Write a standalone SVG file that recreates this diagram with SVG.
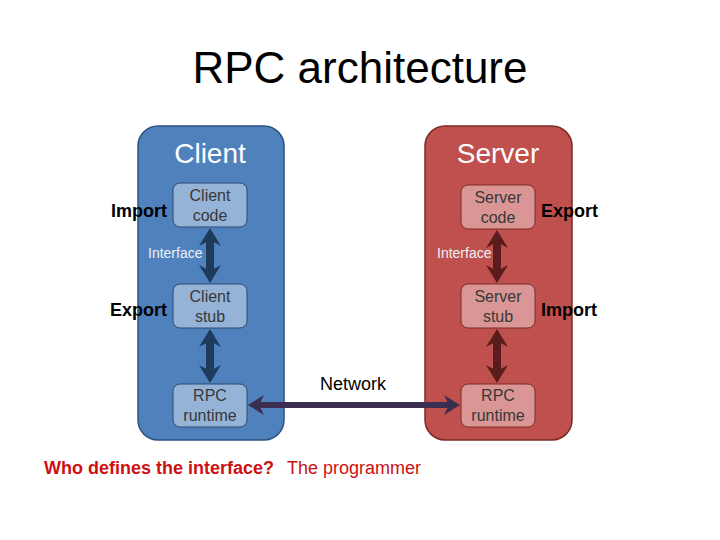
<svg xmlns="http://www.w3.org/2000/svg" width="720" height="540" viewBox="0 0 720 540">
<style>
text{font-family:"Liberation Sans",Arial,sans-serif}
.title{font-size:44px;fill:#000}
.head{font-size:28px;fill:#fff}
.inner{font-size:16px;fill:#383838}
.side{font-size:18px;font-weight:bold;fill:#000}
.iface{font-size:14px;fill:#eef2f8}
.cbox{fill:#4f81bd;stroke:#2c5282;stroke-width:1.5}
.sbox{fill:#c0504d;stroke:#7a2a28;stroke-width:1.5}
.cin{fill:#95b3d7;stroke:#2c4a70;stroke-width:1}
.sin{fill:#d99694;stroke:#7a2a28;stroke-width:1}
.carr{stroke:#1f3b5c;stroke-width:8;fill:none}
.sarr{stroke:#5a1c1c;stroke-width:8;fill:none}
.narr{stroke:#3b2e50;stroke-width:6;fill:none}
.red{font-size:18px;fill:#cc1111}
</style>
<defs>
<marker id="hc" markerUnits="userSpaceOnUse" markerWidth="20" markerHeight="22" refX="9" refY="11" orient="auto-start-reverse" viewBox="0 0 20 22"><path d="M0,0 L18,11 L0,22 L6,11 Z" fill="#1f3b5c"/></marker>
<marker id="hs" markerUnits="userSpaceOnUse" markerWidth="20" markerHeight="22" refX="9" refY="11" orient="auto-start-reverse" viewBox="0 0 20 22"><path d="M0,0 L18,11 L0,22 L6,11 Z" fill="#5a1c1c"/></marker>
<marker id="hn" markerUnits="userSpaceOnUse" markerWidth="18" markerHeight="20" refX="8" refY="10" orient="auto-start-reverse" viewBox="0 0 18 20"><path d="M0,0 L16,10 L0,20 L5,10 Z" fill="#3b2e50"/></marker>
</defs>
<text class="title" x="360" y="83" text-anchor="middle">RPC architecture</text>
<g id="client">
<rect class="cbox" x="138" y="126" width="146" height="314" rx="20"/>
<text class="head" x="210" y="163" text-anchor="middle">Client</text>
</g>
<g id="server">
<rect class="sbox" x="425" y="126" width="147" height="314" rx="20"/>
<text class="head" x="498" y="163" text-anchor="middle">Server</text>
</g>
<g id="client-code">
<rect class="cin" x="173" y="183" width="74" height="44" rx="7"/>
<text class="inner" x="210" y="201" text-anchor="middle">Client</text>
<text class="inner" x="210" y="221" text-anchor="middle">code</text>
</g>
<g id="client-stub">
<rect class="cin" x="173" y="284" width="74" height="44" rx="7"/>
<text class="inner" x="210" y="302" text-anchor="middle">Client</text>
<text class="inner" x="210" y="322" text-anchor="middle">stub</text>
</g>
<g id="client-runtime">
<rect class="cin" x="173" y="384" width="74" height="43" rx="7"/>
<text class="inner" x="210" y="401" text-anchor="middle">RPC</text>
<text class="inner" x="210" y="421" text-anchor="middle">runtime</text>
</g>
<g id="server-code">
<rect class="sin" x="461" y="185" width="74" height="44" rx="7"/>
<text class="inner" x="498" y="203" text-anchor="middle">Server</text>
<text class="inner" x="498" y="223" text-anchor="middle">code</text>
</g>
<g id="server-stub">
<rect class="sin" x="461" y="284" width="74" height="44" rx="7"/>
<text class="inner" x="498" y="302" text-anchor="middle">Server</text>
<text class="inner" x="498" y="322" text-anchor="middle">stub</text>
</g>
<g id="server-runtime">
<rect class="sin" x="461" y="384" width="74" height="43" rx="7"/>
<text class="inner" x="498" y="401" text-anchor="middle">RPC</text>
<text class="inner" x="498" y="421" text-anchor="middle">runtime</text>
</g>
<g id="connectors">
<path class="carr" d="M210,237 L210,274" marker-start="url(#hc)" marker-end="url(#hc)"/>
<path class="carr" d="M210,338 L210,374" marker-start="url(#hc)" marker-end="url(#hc)"/>
<path class="sarr" d="M497,239 L497,274" marker-start="url(#hs)" marker-end="url(#hs)"/>
<path class="sarr" d="M497,338 L497,374" marker-start="url(#hs)" marker-end="url(#hs)"/>
<path class="narr" d="M256,405 L452,405" marker-start="url(#hn)" marker-end="url(#hn)"/>
</g>
<g id="labels">
<text class="side" x="167" y="217" text-anchor="end">Import</text>
<text class="side" x="167" y="316" text-anchor="end">Export</text>
<text class="side" x="541" y="217">Export</text>
<text class="side" x="541" y="316">Import</text>
<text class="iface" x="148" y="258">Interface</text>
<text class="iface" x="437" y="258">Interface</text>
<text x="353" y="390" text-anchor="middle" style="font-size:18px;fill:#000">Network</text>
<text class="red" x="44" y="474" font-weight="bold">Who defines the interface?</text>
<text class="red" x="287" y="474">The programmer</text>
</g>
</svg>
